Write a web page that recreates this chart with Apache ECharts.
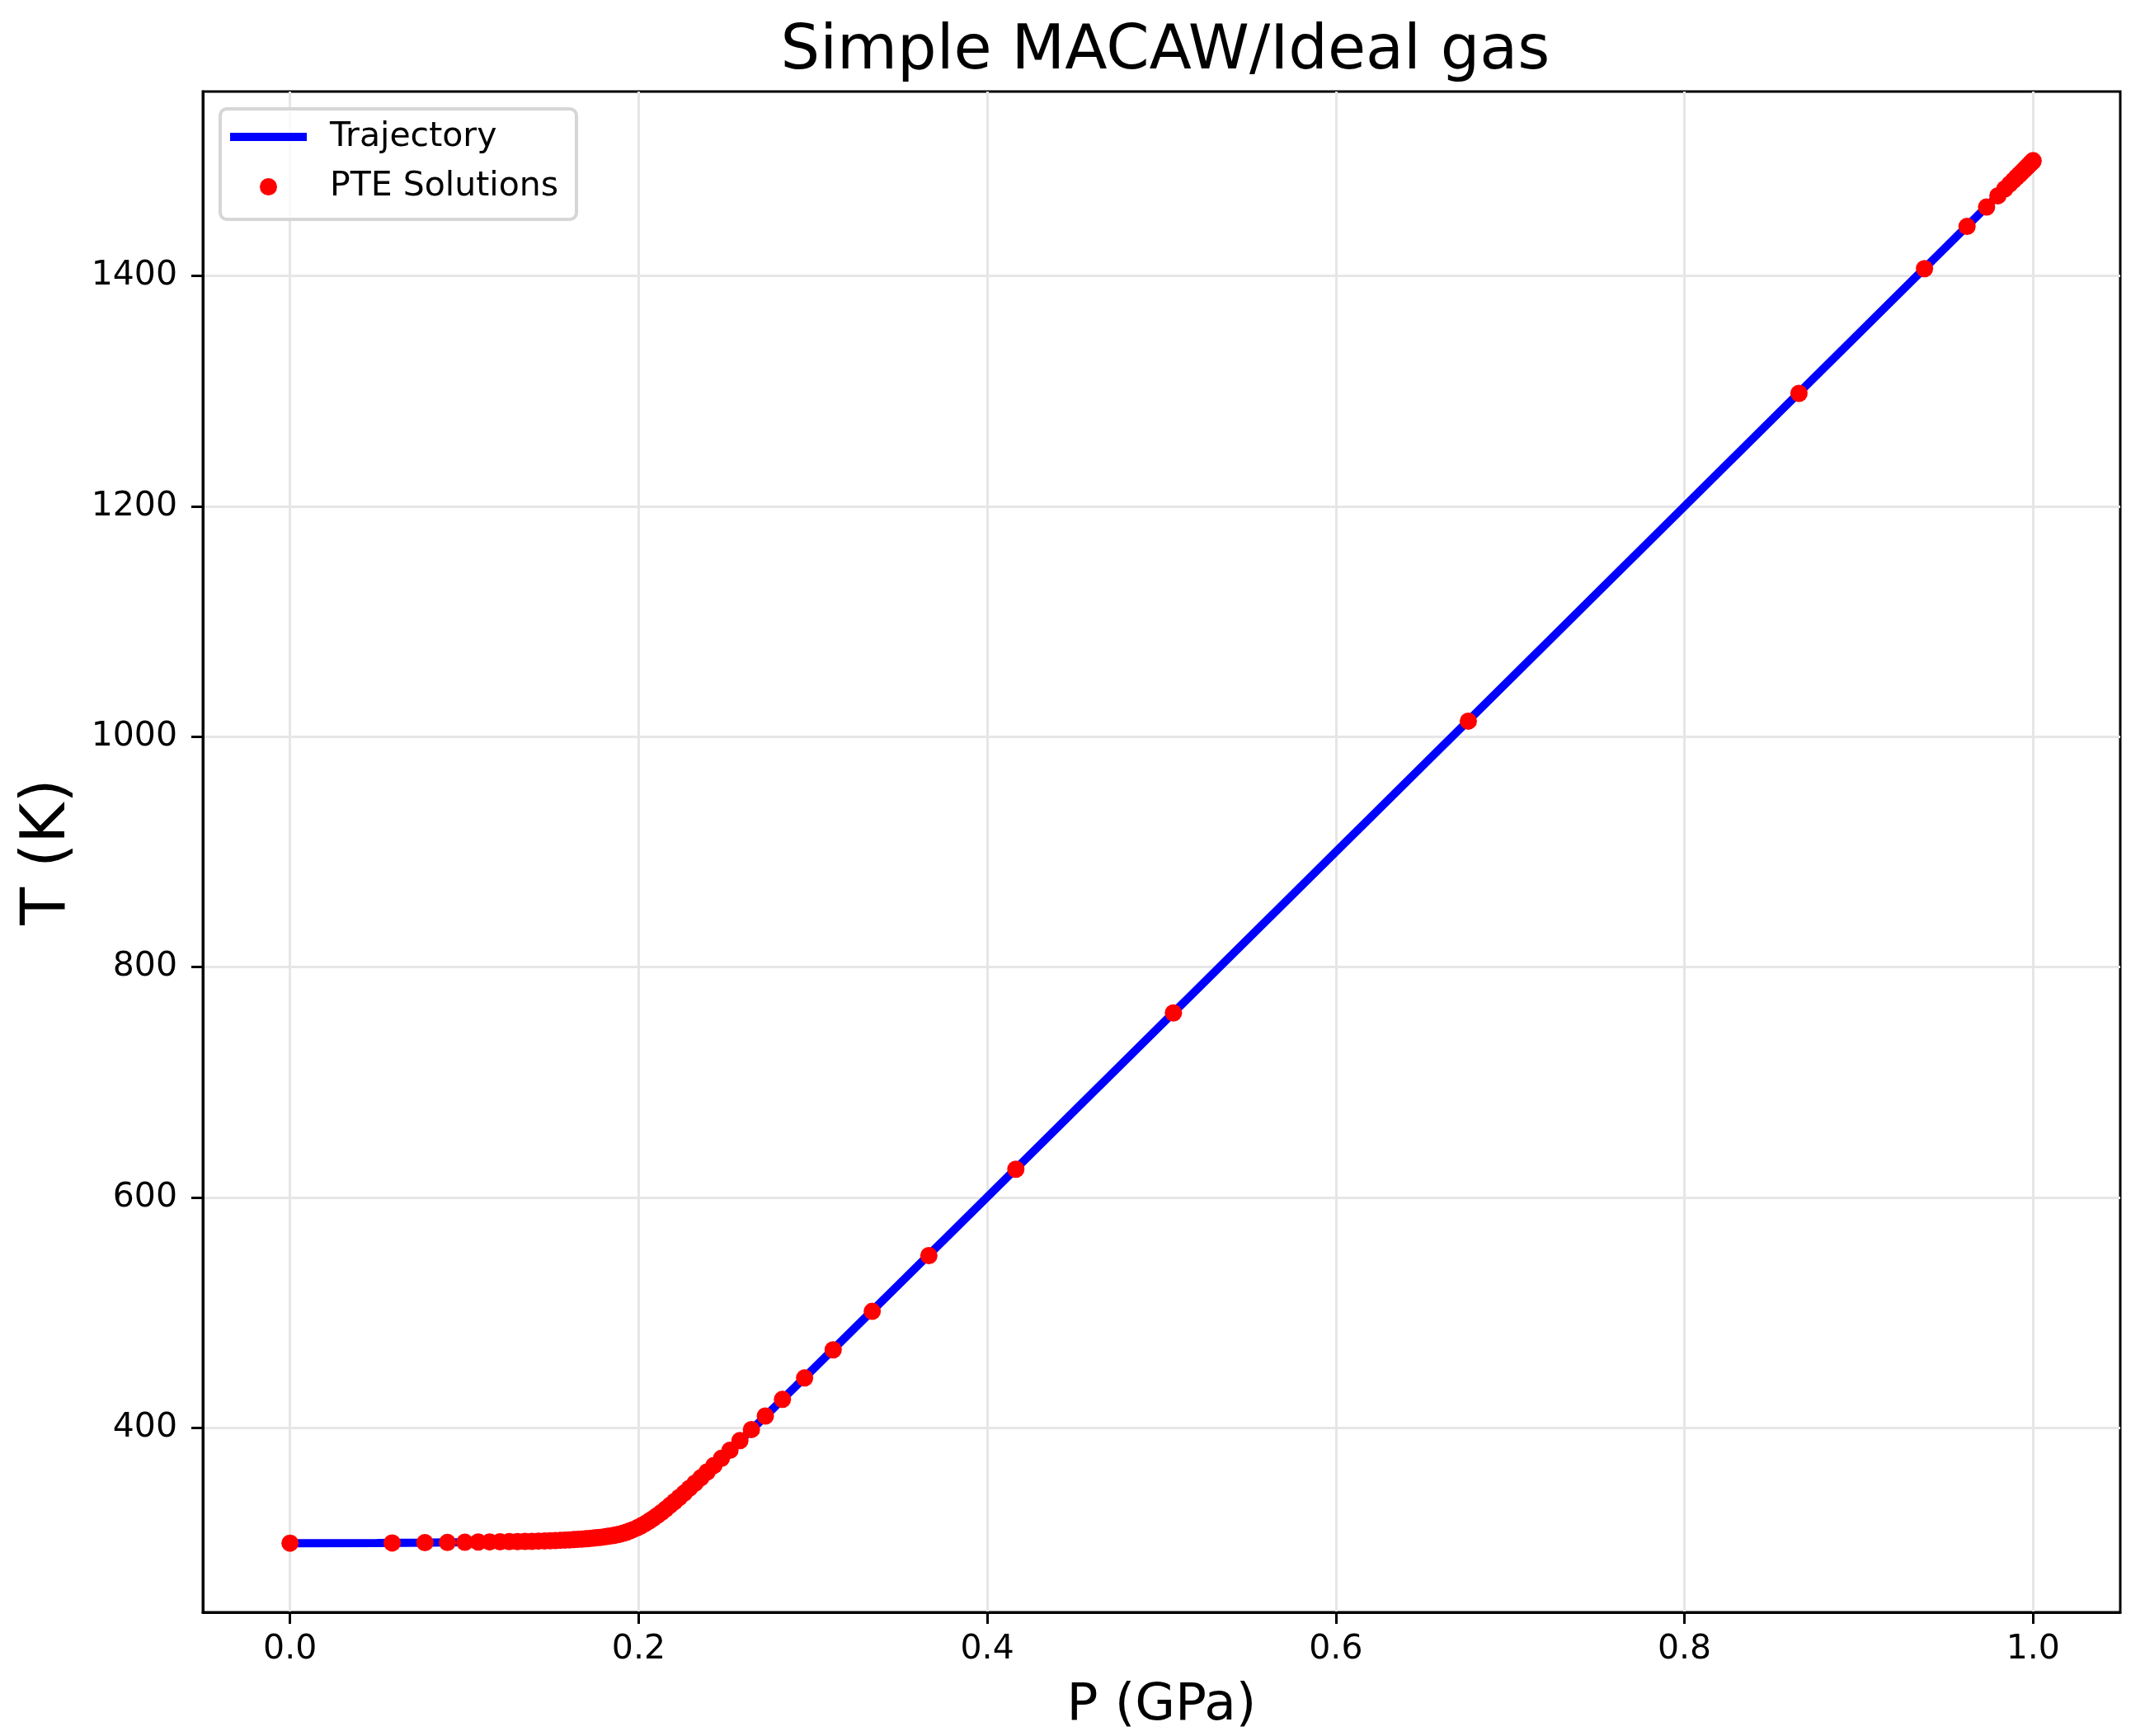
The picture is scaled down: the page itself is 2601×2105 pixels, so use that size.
<!DOCTYPE html>
<html>
<head>
<meta charset="utf-8">
<title>Simple MACAW/Ideal gas</title>
<script src="https://cdn.jsdelivr.net/npm/echarts@6/dist/echarts.min.js"></script>
<style>
  html, body { margin: 0; padding: 0; background: #fff; }
  #main { width: 2601px; height: 2105px; }
</style>
</head>
<body>
<div id="main"></div>
<script>
// trajectory curve, P in GPa, T in K
const trajP = [0, 0.05, 0.08, 0.10, 0.12, 0.14, 0.15, 0.16, 0.17, 0.18, 0.19, 0.20, 0.21, 0.22, 0.23, 0.24,
  0.25, 0.26, 0.27, 0.28, 0.29, 0.30, 0.32, 0.35, 0.40, 0.50, 0.70, 1.00]
const trajT = [300.0, 300.2, 300.5, 300.8, 301.2, 301.9, 302.4, 303.1, 304.0, 305.4, 308.2, 313.6, 322.5, 335.4, 348.6, 362.6,
  376.8, 391.5, 406.2, 421.1, 436.0, 450.9, 480.8, 525.6, 600.4, 750.2, 1050.0, 1500.0]

// PTE solution points
const pteP = [0.0000, 0.0586, 0.0774, 0.0903, 0.1003, 0.1080, 0.1145, 0.1205, 0.1258, 0.1305,
  0.1348, 0.1388, 0.1425, 0.1460, 0.1492, 0.1522, 0.1550, 0.1577, 0.1603, 0.1628,
  0.1652, 0.1675, 0.1697, 0.1718, 0.1739, 0.1759, 0.1779, 0.1798, 0.1817, 0.1836,
  0.1855, 0.1874, 0.1893, 0.1912, 0.1931, 0.1950, 0.1969, 0.1992, 0.2015, 0.2038,
  0.2061, 0.2084, 0.2107, 0.2131, 0.2155, 0.2180, 0.2206, 0.2233, 0.2261, 0.2291,
  0.2323, 0.2357, 0.2393, 0.2432, 0.2475, 0.2524, 0.2581, 0.2647, 0.2727, 0.2825,
  0.2952, 0.3116, 0.3340, 0.3665, 0.4164, 0.5068, 0.6760, 0.8657, 0.9377, 0.9621,
  0.9733, 0.9798, 0.9838, 0.9866, 0.9888, 0.9906, 0.9921, 0.9933, 0.9944, 0.9953,
  0.9961, 0.9968, 0.9974, 0.9979, 0.9984, 0.9988, 0.9992, 0.9995, 0.9998, 1.0000]
const pteT = [300.0, 300.2, 300.4, 300.6, 300.8, 301.0, 301.1, 301.2, 301.3, 301.4,
  301.5, 301.6, 301.8, 301.9, 302.1, 302.3, 302.5, 302.7, 302.9, 303.1,
  303.3, 303.5, 303.8, 304.1, 304.4, 304.7, 305.0, 305.4, 305.8, 306.2,
  306.7, 307.3, 307.9, 308.7, 309.6, 310.6, 311.8, 313.3, 315.1, 317.0,
  319.2, 321.5, 324.0, 326.7, 329.6, 332.8, 336.1, 339.7, 343.4, 347.6,
  352.0, 356.8, 361.9, 367.5, 373.6, 380.6, 389.0, 398.6, 410.4, 424.8,
  443.4, 467.8, 501.2, 549.6, 624.6, 760.2, 1013.5, 1298.0, 1406.3, 1442.9,
  1459.7, 1469.5, 1475.5, 1479.7, 1483.0, 1485.7, 1487.9, 1489.7, 1491.4, 1492.7,
  1493.9, 1495.0, 1495.9, 1496.7, 1497.4, 1498.0, 1498.6, 1499.1, 1499.5, 1500.0]

const xTicks = [0.0, 0.2, 0.4, 0.6, 0.8, 1.0]
const yTicks = [400, 600, 800, 1000, 1200, 1400]

const font = 'DejaVu Sans'
const trajData = trajP.map((p, i) => [p, trajT[i]])
const pteData = pteP.map((p, i) => [p, pteT[i]])

const chart = echarts.init(document.getElementById('main'), null, {renderer: 'canvas'})
chart.setOption({
  animation: false,
  backgroundColor: '#ffffff',
  title: {
    text: 'Simple MACAW/Ideal gas',
    left: 1408,
    top: 21,
    textAlign: 'center',
    textStyle: {fontFamily: font, fontSize: 75, fontWeight: 'normal', color: '#000'}
  },
  grid: {
    left: 246, right: 30, top: 111, bottom: 146,
    show: true,
    borderColor: '#000',
    borderWidth: 3,
    backgroundColor: 'transparent'
  },
  legend: [
    {
      data: [{name: 'Trajectory', icon: 'rect', itemStyle: {color: '#0000ff', borderWidth: 0}}],
      left: 279, top: 145.5, padding: 0,
      itemWidth: 93, itemHeight: 10,
      selectedMode: false,
      textStyle: {fontFamily: font, fontSize: 41, color: '#000', padding: [0, 0, 0, 23]}
    },
    {
      // the circle is centred in the 93px handle, the box is placed by the circle itself
      data: [{name: 'PTE Solutions', icon: 'circle', itemStyle: {color: '#ff0000', borderWidth: 0}}],
      left: 315, top: 206, padding: 0,
      itemWidth: 93, itemHeight: 21,
      selectedMode: false,
      textStyle: {fontFamily: font, fontSize: 41, color: '#000', padding: [0, 0, 0, 23]}
    }
  ],
  // legend frame
  graphic: [{
    type: 'rect', z: 3,
    shape: {x: 267, y: 132, width: 432, height: 134, r: 8},
    style: {fill: 'rgba(255,255,255,0.8)', stroke: '#d6d6d6', lineWidth: 4}
  }],
  xAxis: {
    type: 'value',
    min: -0.05, max: 1.05,
    name: 'P (GPa)',
    nameLocation: 'middle',
    nameGap: 82,
    nameTextStyle: {fontFamily: font, fontSize: 63, color: '#000'},
    axisLine: {show: true, onZero: false, lineStyle: {color: '#000', width: 3}},
    axisTick: {show: true, customValues: xTicks, length: 14, lineStyle: {color: '#000', width: 3}},
    axisLabel: {
      customValues: xTicks, margin: 25,
      fontFamily: font, fontSize: 41, color: '#000',
      formatter: v => v.toFixed(1)
    },
    splitLine: {show: true, lineStyle: {color: '#e6e6e6', width: 3}}
  },
  yAxis: {
    type: 'value',
    min: 240, max: 1560,
    name: 'T (K)',
    nameLocation: 'middle',
    nameRotate: 90,
    nameGap: 150,
    nameTextStyle: {fontFamily: font, fontSize: 75, color: '#000'},
    axisLine: {show: true, onZero: false, lineStyle: {color: '#000', width: 3}},
    axisTick: {show: true, customValues: yTicks, length: 14, lineStyle: {color: '#000', width: 3}},
    axisLabel: {
      customValues: yTicks, margin: 31,
      fontFamily: font, fontSize: 41, color: '#000',
      formatter: v => String(v)
    },
    splitLine: {show: true, lineStyle: {color: '#e6e6e6', width: 3}}
  },
  series: [
    {
      name: 'Trajectory',
      type: 'line',
      data: trajData,
      showSymbol: false,
      z: 2,
      itemStyle: {color: '#0000ff'},
      lineStyle: {color: '#0000ff', width: 10}
    },
    {
      name: 'PTE Solutions',
      type: 'scatter',
      data: pteData,
      symbol: 'circle',
      symbolSize: 21,
      z: 3,
      itemStyle: {color: '#ff0000', opacity: 1}
    }
  ]
})
</script>
</body>
</html>
